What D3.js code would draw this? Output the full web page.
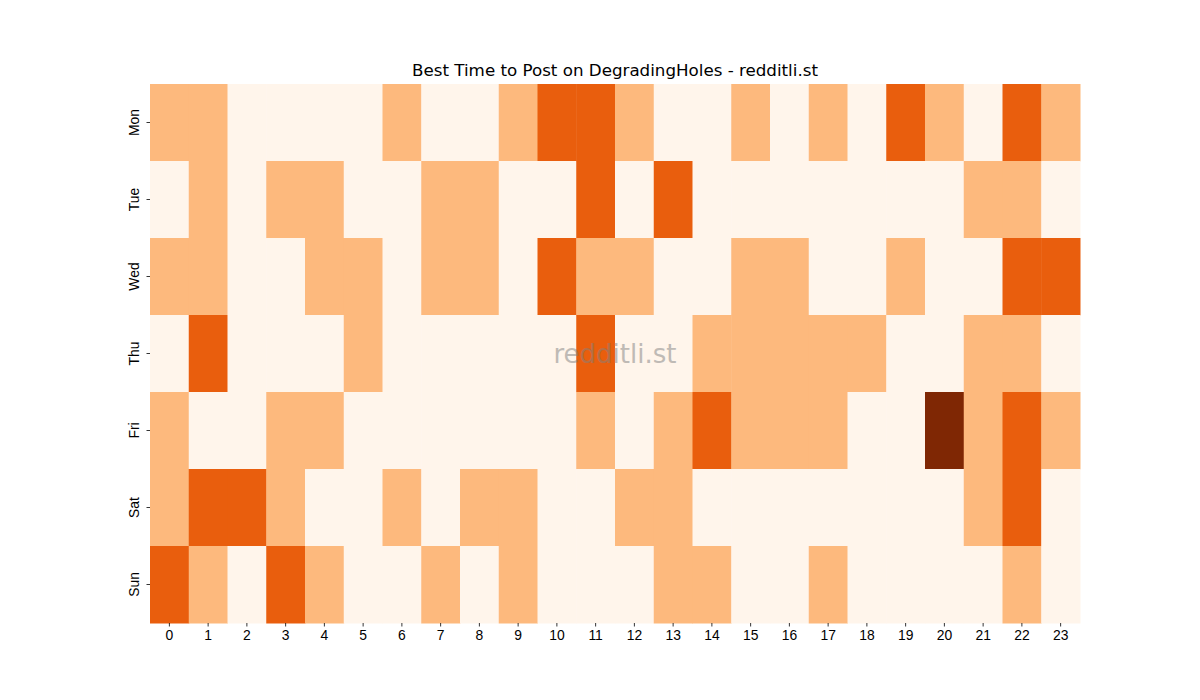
<!DOCTYPE html>
<html>
<head>
<meta charset="utf-8">
<script src="https://cdn.jsdelivr.net/npm/d3@7"></script>
<style>
  body { margin: 0; background: #fff; }
  svg { font-family: "DejaVu Sans", sans-serif; }
  .tick text { font-size: 13.9px; fill: #000; }
  .tick line { stroke: #000; stroke-width: 0.8; }
</style>
</head>
<body>
<svg width="1200" height="700"></svg>
<script>
const days = ["Mon", "Tue", "Wed", "Thu", "Fri", "Sat", "Sun"];
const hours = d3.range(24).map(String);

// post scores per day, hour 0..23
const mon = [1,1,0,0,0,0,1,0,0,1,2,2,1,0,0,1,0,1,0,2,1,0,2,1];
const tue = [0,1,0,1,1,0,0,1,1,0,0,2,0,2,0,0,0,0,0,0,0,1,1,0];
const wed = [1,1,0,0,1,1,0,1,1,0,2,1,1,0,0,1,1,0,0,1,0,0,2,2];
const thu = [0,2,0,0,0,1,0,0,0,0,0,2,0,0,1,1,1,1,1,0,0,1,1,0];
const fri = [1,0,0,1,1,0,0,0,0,0,0,1,0,1,2,1,1,1,0,0,3,1,2,1];
const sat = [1,2,2,1,0,0,1,0,1,1,0,0,1,1,0,0,0,0,0,0,0,1,2,0];
const sun = [2,1,0,2,1,0,0,1,0,1,0,0,0,1,1,0,0,1,0,0,0,0,1,0];
const rows = [mon, tue, wed, thu, fri, sat, sun];

const svg = d3.select("svg"),
      margin = {top: 84, right: 120, bottom: 77, left: 150},
      width = +svg.attr("width") - margin.left - margin.right,
      height = +svg.attr("height") - margin.top - margin.bottom;

const g = svg.append("g").attr("transform", `translate(${margin.left},${margin.top})`);

const x = d3.scaleBand().domain(hours).range([0, width]);
const y = d3.scaleBand().domain(days).range([0, height]);
const color = d3.scaleOrdinal()
  .domain([0, 1, 2, 3])
  .range(["#fff5eb", "#fdb97d", "#e95e0d", "#7f2704"]);

const cells = [];
rows.forEach((r, i) => r.forEach((v, j) => cells.push({day: days[i], hour: hours[j], value: v})));

g.selectAll("rect")
  .data(cells)
  .join("rect")
    .attr("x", d => x(d.hour))
    .attr("y", d => y(d.day))
    .attr("width", x.bandwidth() + 0.5)
    .attr("height", y.bandwidth() + 0.5)
    .attr("fill", d => color(d.value));

const xAxis = g.append("g")
  .attr("transform", `translate(0,${height})`)
  .attr("font-family", "DejaVu Sans, sans-serif")
  .call(d3.axisBottom(x).tickSize(3.5).tickPadding(4));
xAxis.select(".domain").remove();

const yAxis = g.append("g")
  .attr("font-family", "DejaVu Sans, sans-serif")
  .call(d3.axisLeft(y).tickSize(3.5).tickPadding(4));
yAxis.select(".domain").remove();
yAxis.selectAll(".tick text")
  .attr("text-anchor", "middle")
  .attr("dy", null)
  .attr("x", -16)
  .attr("y", 0)
  .attr("transform", "rotate(-90,-16,0)")
  .attr("dominant-baseline", "central");

// watermark
g.append("text")
  .attr("x", width / 2)
  .attr("y", y("Thu") + y.bandwidth() / 2)
  .attr("text-anchor", "middle")
  .attr("dominant-baseline", "central")
  .attr("font-size", 26)
  .attr("fill", "#808080")
  .attr("opacity", 0.5)
  .text("redditli.st");

svg.append("text")
  .attr("x", margin.left + width / 2)
  .attr("y", 76)
  .attr("text-anchor", "middle")
  .attr("font-size", 16.7)
  .text("Best Time to Post on DegradingHoles - redditli.st");
</script>
</body>
</html>
